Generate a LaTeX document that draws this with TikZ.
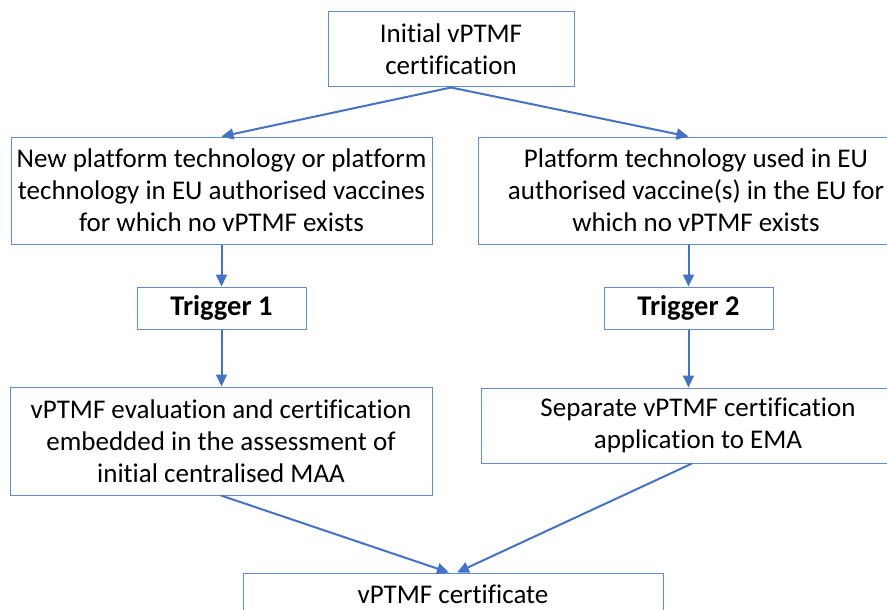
\documentclass[tikz,border=0pt]{standalone}
\usepackage{fontspec}
\setmainfont{Carlito}[Ligatures=NoCommon]
\usepackage{tikz}
\usetikzlibrary{calc, positioning, arrows.meta}
\definecolor{boxline}{RGB}{100,138,208}
\definecolor{flowblue}{RGB}{68,114,196}
\def\boxw{421pt}
\tikzstyle{box}=[draw=boxline, line width=1pt, align=center, inner sep=0pt, font=\fontsize{27}{32}\selectfont]
\tikzstyle{trigger}=[box, minimum width=169pt, minimum height=42pt, font=\fontsize{28.5}{32}\selectfont\bfseries]
\tikzstyle{flow}=[-{Triangle[length=12pt,width=11pt]}, draw=flowblue, line width=2pt]
\begin{document}
\begin{tikzpicture}[x=1pt, y=-1pt]
		\useasboundingbox (0,0) rectangle (887,610);
		\node[box, minimum width=246pt, minimum height=75pt] (init) at (451,49.5) {Initial vPTMF\\certification};
		\node[box, minimum width=\boxw, minimum height=107pt] (plat-1) at (221.5,190.5) {New platform technology or platform\\technology in EU authorised vaccines\\for which no vPTMF exists};
		\node[box, minimum width=436pt, minimum height=107pt] (plat-2) at (696,190.5) {Platform technology used in EU\\authorised vaccine(s) in the EU for\\which no vPTMF exists};
		\node[trigger] (trig-1) at (221.5,308) {Trigger 1};
		\node[trigger] (trig-2) at (688.5,308) {Trigger 2};
		\node[box, minimum width=422pt, minimum height=108pt] (eval-1) at (221,441) {vPTMF evaluation and certification\\embedded in the assessment of\\initial centralised MAA};
		\node[box, minimum width=434pt, minimum height=75pt] (eval-2) at (698,425.5) {Separate vPTMF certification\\application to EMA};
		\node[box, minimum width=420pt, minimum height=42pt] (cert) at (453,594) {vPTMF certificate};
		\path
		(init.south) edge[flow] (plat-1.north)
		(init.south) edge[flow] (trig-2.north |- plat-2.north)
		(plat-1.south) edge[flow] (trig-1.north)
		(trig-2.north |- plat-2.south) edge[flow] (trig-2.north)
		(trig-1.south) edge[flow] (trig-1.south |- eval-1.north)
		(trig-2.south) edge[flow] (trig-2.south |- eval-2.north)
		(eval-1.south) edge[flow] ($(cert.north)+(-4,0)$)
		($(eval-2.south)+(-6,0)$) edge[flow] ($(cert.north)+(4,0)$);
	\end{tikzpicture}
\end{document}
